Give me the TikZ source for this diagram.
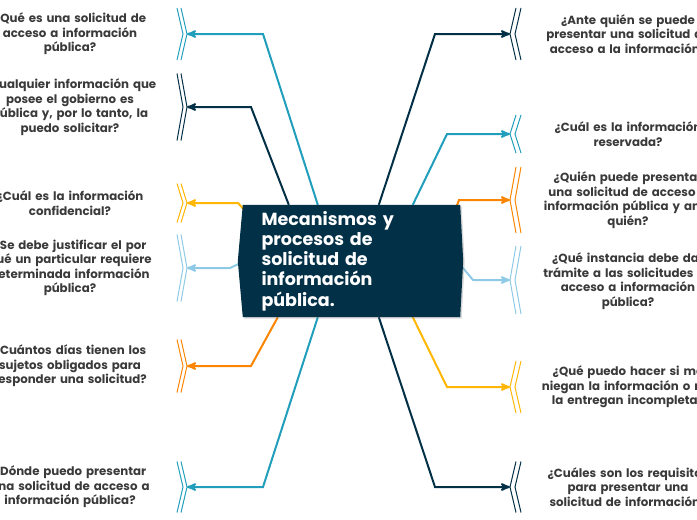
\documentclass[tikz,border=0pt]{standalone}
\usepackage{fontspec}
\setmainfont{Poppins}
\usetikzlibrary{arrows,backgrounds,shadows}
\definecolor{mmnavy}{HTML}{023047}
\definecolor{mmteal}{HTML}{219EBC}
\definecolor{mmyellow}{HTML}{FFB703}
\definecolor{mmorange}{HTML}{FB8500}
\definecolor{mmsky}{HTML}{8ECAE6}
\definecolor{mmtext}{HTML}{3A3A3A}
\tikzset{
  topic/.style = {text=white, align=left, inner sep=0pt,
    font=\bfseries\fontsize{17.5}{20.3}\selectfont, text width=180pt,
    minimum width=217pt, minimum height=112pt},
  question/.style = {text=mmtext, align=center, inner sep=0pt,
    font=\bfseries\fontsize{11.8}{14.5}\selectfont, text width=185pt},
  branch/.style = {line width=2pt, ->, >=stealth'},
  chevL/.pic = {\draw[line width=1pt] (-6,#1) -- (0,0) -- (-6,-#1)
    (-10,#1) -- (-4,0) -- (-10,-#1);},% marca izquierda
  chevR/.pic = {\draw[line width=1pt] (6,#1) -- (0,0) -- (6,-#1)
    (11,#1) -- (5,0) -- (11,-#1);}% marca derecha
}

\begin{document}
\begin{tikzpicture}[x=1pt,y=1pt]
\useasboundingbox (0,0) rectangle (697,-520);

\node[topic] (topic) at (351.5,-261) {Mecanismos y\\procesos de\\solicitud de\\información\\pública.};

% preguntas izquierda
\node[question] (ql1) at (70,-34) {¿Qué es una solicitud de\\acceso a información\\pública?};
\node[question] (ql2) at (70,-107) {¿Cualquier información que\\posee el gobierno es\\pública y, por lo tanto, la\\puedo solicitar?};
\node[question] (ql3) at (70,-203) {¿Cuál es la información\\confidencial?};
\node[question] (ql4) at (70,-268) {¿Se debe justificar el por\\qué un particular requiere\\determinada información\\pública?};
\node[question] (ql5) at (70,-366) {¿Cuántos días tienen los\\sujetos obligados para\\responder una solicitud?};
\node[question] (ql6) at (70,-487) {¿Dónde puedo presentar\\una solicitud de acceso a\\información pública?};

% preguntas derecha
\node[question] (qr1) at (628,-34) {¿Ante quién se puede\\presentar una solicitud de\\acceso a la información?};
\node[question] (qr2) at (628,-134) {¿Cuál es la información\\reservada?};
\node[question] (qr3) at (628,-200) {¿Quién puede presentar\\una solicitud de acceso a\\información pública y ante\\quién?};
\node[question] (qr4) at (628,-281) {¿Qué instancia debe dar\\trámite a las solicitudes de\\acceso a información\\pública?};
\node[question] (qr5) at (628,-387) {¿Qué puedo hacer si me\\niegan la información o me\\la entregan incompleta?};
\node[question] (qr6) at (628,-487) {¿Cuáles son los requisitos\\para presentar una\\solicitud de información?};

\coordinate (tl1) at (187,-34);
\coordinate (tl2) at (187,-107);
\coordinate (tl3) at (187,-203);
\coordinate (tl4) at (187,-268);
\coordinate (tl5) at (187,-366);
\coordinate (tl6) at (187,-487);
\coordinate (tr1) at (510,-34);
\coordinate (tr2) at (510,-134);
\coordinate (tr3) at (510,-200);
\coordinate (tr4) at (510,-280);
\coordinate (tr5) at (510,-387);
\coordinate (tr6) at (510,-487);

\begin{scope}[on background layer]
\draw[branch,mmteal] ([xshift=75pt]topic.north west) -- (263,-34) -- (tl1);
\draw[branch,mmnavy] ([xshift=46pt]topic.north west) -- (251,-107) -- (tl2);
\draw[branch,mmyellow] ([shift={(6pt,-10pt)}]topic.north west) -- (238,-203) -- (tl3);
\draw[branch,mmsky] ([xshift=2pt]topic.west) -- (230,-268) -- (tl4);
\draw[branch,mmorange] ([xshift=35pt]topic.south west) -- (251,-366) -- (tl5);
\draw[branch,mmteal] ([xshift=75pt]topic.south west) -- (263,-487) -- (tl6);
\draw[branch,mmnavy] ([xshift=136pt]topic.north west) -- (435,-34) -- (tr1);
\draw[branch,mmteal] ([xshift=170pt]topic.north west) -- (447,-134) -- (tr2);
\draw[branch,mmorange] ([shift={(-6pt,-8pt)}]topic.north east) -- (459,-200) -- (tr3);
\draw[branch,mmsky] ([xshift=-3pt]topic.east) -- (473,-280) -- (tr4);
\draw[branch,mmyellow] ([xshift=170pt]topic.south west) -- (447,-387) -- (tr5);
\draw[branch,mmnavy] ([xshift=136pt]topic.south west) -- (435,-487) -- (tr6);
\fill[mmnavy, drop shadow={opacity=0.3,shadow xshift=1.5pt,shadow yshift=-1.5pt}]
  (topic.north west) -- (topic.north east) -- ([xshift=3pt]topic.east)
  -- (topic.south east) -- (topic.south west) -- ([xshift=-5pt]topic.west) -- cycle;
\end{scope}

\pic[mmteal] at (tl1) {chevL=26};
\pic[mmnavy] at (tl2) {chevL=33.5};
\pic[mmyellow] at (tl3) {chevL=19.5};
\pic[mmsky] at (tl4) {chevL=33.5};
\pic[mmorange] at (tl5) {chevL=26.5};
\pic[mmteal] at (tl6) {chevL=25.5};
\pic[mmnavy] at (tr1) {chevR=26};
\pic[mmteal] at (tr2) {chevR=19};
\pic[mmorange] at (tr3) {chevR=33};
\pic[mmsky] at (tr4) {chevR=34};
\pic[mmyellow] at (tr5) {chevR=26};
\pic[mmnavy] at (tr6) {chevR=25.5};
\end{tikzpicture}
\end{document}
